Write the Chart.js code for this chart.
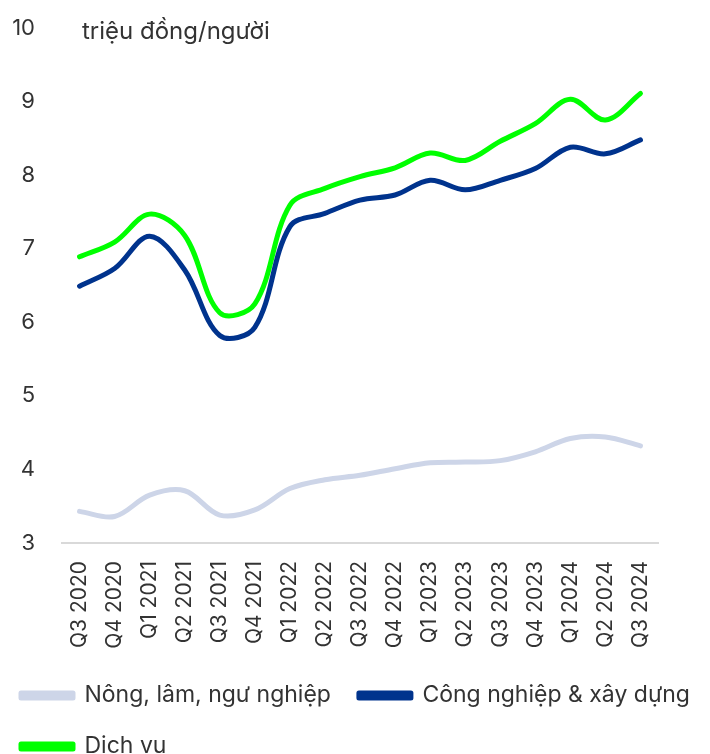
<!DOCTYPE html>
<html>
<head>
<meta charset="utf-8">
<script src="https://cdn.jsdelivr.net/npm/chart.js@4/dist/chart.umd.min.js"></script>
<style>
  html, body { margin:0; padding:0; background:#fff; overflow:hidden; }
  #wrap { width:710px; height:768px; }
</style>
</head>
<body>
<div id="wrap"><canvas id="chart"></canvas></div>
<script>
// Data
const quarters = ['Q3 2020','Q4 2020','Q1 2021','Q2 2021','Q3 2021','Q4 2021','Q1 2022','Q2 2022','Q3 2022','Q4 2022',
  'Q1 2023','Q2 2023','Q3 2023','Q4 2023','Q1 2024','Q2 2024','Q3 2024'];
const nongLamNgu = [3.43, 3.36, 3.65, 3.71, 3.38, 3.45, 3.74, 3.86, 3.92, 4.01, 4.09, 4.10, 4.12, 4.24, 4.42, 4.44, 4.32];
const congNghiep = [6.49, 6.73, 7.17, 6.71, 5.82, 5.93, 7.30, 7.48, 7.66, 7.73, 7.93, 7.80, 7.93, 8.09, 8.38, 8.29, 8.48];
const dichVu     = [6.89, 7.09, 7.47, 7.18, 6.13, 6.25, 7.59, 7.82, 7.98, 8.10, 8.30, 8.20, 8.46, 8.70, 9.03, 8.75, 9.11];
const yTicks = [3, 4, 5, 6, 7, 8, 9, 10];
const unitLabel = 'triệu đồng/người';

const FONT = 'Inter';
const TXT = '#333333';

// unit text at top left of plot
const unitText = {
  id: 'unitText',
  afterDraw(chart) {
    const {ctx, scales} = chart;
    ctx.save();
    ctx.font = `24px ${FONT}`;
    ctx.fillStyle = TXT;
    ctx.textAlign = 'left';
    ctx.textBaseline = 'middle';
    ctx.fillText(unitLabel, scales.x.left + 20, scales.y.getPixelForValue(10) + 4);
    ctx.restore();
  }
};

const line = (label, data, color) => ({
  label, data,
  borderColor: color, backgroundColor: color,
  borderWidth: 5, pointRadius: 0, tension: 0.35,
  borderCapStyle: 'round', borderJoinStyle: 'round'
});

new Chart(document.getElementById('chart'), {
  type: 'line',
  data: {
    labels: quarters,
    datasets: [
      line('Nông, lâm, ngư nghiệp', nongLamNgu, '#CDD5E8'),
      line('Công nghiệp & xây dựng', congNghiep, '#00338D'),
      line('Dịch vụ', dichVu, '#00FF00')
    ]
  },
  options: {
    responsive: true,
    maintainAspectRatio: false,
    animation: false,
    layout: { padding: { top: 28, left: -7, right: -15, bottom: 0 } },
    plugins: {
      tooltip: { enabled: false },
      legend: {
        position: 'bottom',
        align: 'start',
        labels: {
          boxWidth: 52, boxHeight: 5, padding: 28,
          color: TXT, font: { family: FONT, size: 23 }
        }
      }
    },
    scales: {
      x: {
        offset: true,
        grid: { display: false, drawTicks: false },
        border: { display: true, color: '#D9D9D9', width: 2 },
        ticks: { color: TXT, font: { family: FONT, size: 21 }, minRotation: 90, maxRotation: 90, padding: 18, autoSkip: false },
        afterFit: s => { s.height = 113; }
      },
      y: {
        min: 3, max: 10,
        afterBuildTicks: s => { s.ticks = yTicks.map(v => ({ value: v })); },
        grid: { display: false, drawTicks: false },
        border: { display: false },
        ticks: { color: TXT, font: { family: FONT, size: 22 }, padding: 27 },
        afterFit: s => { s.width = 69; s.paddingTop = 0; s.paddingBottom = 0; }
      },
      yRight: {
        position: 'right', min: 3, max: 10,
        grid: { display: false, drawTicks: false },
        border: { display: false },
        ticks: { display: false },
        afterFit: s => { s.width = 67; s.paddingTop = 0; s.paddingBottom = 0; }
      }
    }
  },
  plugins: [unitText]
});
</script>
</body>
</html>
